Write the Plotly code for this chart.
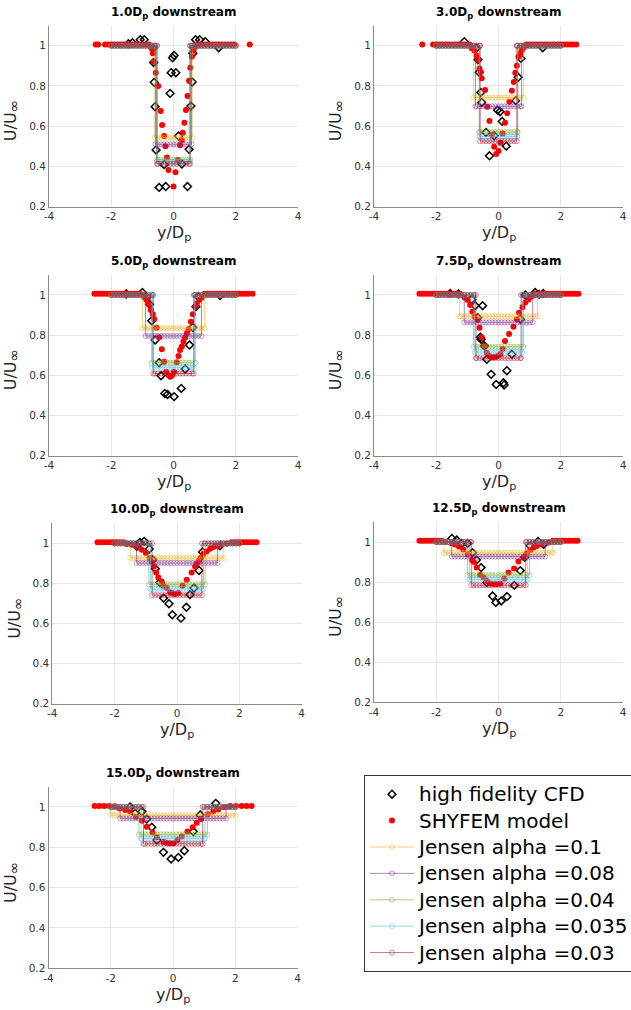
import plotly.graph_objects as go

FIG_W, FIG_H = 631, 1010

PANEL_TITLES = ["1.0", "3.0", "5.0", "7.5", "10.0", "12.5", "15.0"]
X_TICKS = [-4, -2, 0, 2, 4]
X_TICK_TEXT = ["-4", "-2", "0", "2", "4"]
Y_TICKS = [0.2, 0.4, 0.6, 0.8, 1.0]
Y_TICK_TEXT = ["0.2", "0.4", "0.6", "0.8", "1"]

# ---------------- high fidelity CFD ----------------
CFD_Y = [
    [-1.45, -1.32, -1.07, -0.94, -0.665, -0.64, -0.62, -0.59, -0.56, -0.46, -0.30, -0.25, -0.11, -0.075,
     -0.03, 0.02, 0.075, 0.16, 0.27, 0.45, 0.50, 0.56, 0.60, 0.62, 0.71, 0.84, 1.02, 1.45],
    [-1.10, -0.72, -0.66, -0.62, -0.57, -0.54, -0.40, -0.29, -0.14, -0.03, 0.05, 0.12, 0.25, 0.55, 0.63,
     0.72, 1.42],
    [-1.52, -1.0, -0.86, -0.77, -0.70, -0.59, -0.46, -0.40, -0.28, -0.19, 0.02, 0.25, 0.375, 0.515, 0.62,
     0.72, 0.80, 1.50],
    [-1.55, -1.29, -0.86, -0.75, -0.51, -0.665, -0.58, -0.56, -0.45, -0.375, -0.236, -0.075, 0.16, 0.18,
     0.27, 0.43, 0.70, 0.86, 1.18, 1.31, 1.44],
    [-1.29, -1.19, -1.05, -0.89, -0.78, -0.695, -0.545, -0.43, -0.257, -0.15, 0.128, 0.30, 0.417, 0.545,
     0.706, 0.82, 1.38],
    [-1.50, -1.34, -1.18, -0.99, -0.84, -0.71, -0.56, -0.375, -0.19, -0.086, 0.086, 0.27, 0.51, 0.70, 0.84,
     1.02, 1.27, 1.45],
    [-1.38, -1.22, -1.0, -0.845, -0.684, -0.52, -0.31, -0.064, 0.17, 0.36, 0.65, 0.87, 1.37],
]
CFD_U = [
    [1.01, 1.015, 1.03, 1.03, 0.987, 0.917, 0.818, 0.697, 0.482, 0.296, 0.409, 0.30, 0.763, 0.866,
     0.94, 0.952, 0.866, 0.551, 0.412, 0.30, 0.485, 0.70, 0.82, 0.962, 1.03, 1.03, 1.02, 0.99],
    [1.02, 0.987, 0.93, 0.868, 0.768, 0.718, 0.569, 0.453, 0.553, 0.68, 0.672, 0.624, 0.501, 0.727, 0.843,
     0.937, 0.99],
    [1.005, 1.013, 0.988, 0.954, 0.872, 0.776, 0.663, 0.598, 0.51, 0.505, 0.494, 0.535, 0.632, 0.751, 0.839,
     0.942, 0.992, 0.997],
    [1.008, 1.005, 0.978, 0.947, 0.947, 0.887, 0.79, 0.78, 0.746, 0.68, 0.605, 0.555, 0.563, 0.552,
     0.623, 0.705, 0.88, 1.0, 1.012, 1.003, 1.008],
    [0.985, 1.005, 1.01, 0.972, 0.918, 0.874, 0.805, 0.727, 0.699, 0.644, 0.627, 0.681, 0.744, 0.777,
     0.865, 0.957, 0.988],
    [1.018, 1.01, 0.993, 0.993, 0.947, 0.91, 0.872, 0.797, 0.73, 0.698, 0.705, 0.727, 0.783, 0.857, 0.923,
     0.98, 1.003, 0.988],
    [1.0, 0.969, 0.977, 0.94, 0.90, 0.836, 0.775, 0.742, 0.75, 0.783, 0.878, 0.96, 1.018],
]

# ---------------- SHYFEM model ----------------
SHY_Y = [
    [-2.5, -2.42, -2.2, -2.1, -2.0, -1.9, -1.8, -1.7, -1.6, -1.5, -1.4, -1.3, -1.2, -1.1, -1.0, -0.9, -0.8,
     -0.7, -0.665, -0.64, -0.57, -0.49, -0.41, -0.365, -0.30, -0.26, -0.21, -0.16, 0.0, 0.064, 0.14, 0.21,
     0.27, 0.30, 0.35, 0.40, 0.45, 0.50, 0.54, 0.59, 0.64, 0.70,
     0.78, 0.85, 0.95, 1.05, 1.15, 1.25, 1.35, 1.45, 1.55, 1.65, 1.75, 1.85, 1.95, 2.45],
    [-2.45, -2.1, -2.0, -1.9, -1.8, -1.7, -1.6, -1.5, -1.4, -1.3, -1.2, -1.1, -1.0, -0.93,
     -0.86, -0.77, -0.70, -0.66, -0.61, -0.57, -0.54, -0.43, -0.36, -0.29, -0.21, -0.14, -0.075, 0.0, 0.064,
     0.13, 0.21, 0.28, 0.35, 0.43, 0.49, 0.54, 0.59, 0.64, 0.71, 0.75, 0.82,
     0.9, 1.0, 1.1, 1.2, 1.3, 1.4, 1.5, 1.6, 1.7, 1.8, 1.9, 2.0, 2.1, 2.2, 2.3, 2.4, 2.5],
    [-2.54, -2.45, -2.35, -2.25, -2.15, -2.05, -1.95, -1.85, -1.75, -1.65, -1.55, -1.45, -1.35, -1.25, -1.15,
     -1.07,
     -0.94, -0.86, -0.80, -0.73, -0.665, -0.62, -0.54, -0.46, -0.375, -0.30, -0.236, -0.16, -0.107, -0.043,
     0.02, 0.107, 0.16, 0.21, 0.27, 0.32, 0.375, 0.43, 0.48, 0.56, 0.62, 0.70, 0.75, 0.83, 0.91,
     1.0, 1.1, 1.2, 1.3, 1.4, 1.5, 1.6, 1.7, 1.8, 1.9, 2.0, 2.1, 2.2, 2.3, 2.4, 2.54],
    [-2.54, -2.44, -2.34, -2.24, -2.14, -2.04, -1.94, -1.84, -1.74, -1.64, -1.54, -1.44, -1.34, -1.24,
     -1.09, -0.99, -0.91, -0.84, -0.77, -0.675, -0.61, -0.54, -0.45, -0.375, -0.29, -0.21, -0.14, -0.075,
     -0.02, 0.064, 0.13, 0.21, 0.34, 0.48, 0.59, 0.66, 0.77, 0.86, 0.965, 1.07,
     1.18, 1.28, 1.38, 1.48, 1.58, 1.68, 1.78, 1.88, 1.98, 2.08, 2.18, 2.28, 2.38, 2.48, 2.57],
    [-2.55, -2.45, -2.35, -2.25, -2.15, -2.05, -1.95, -1.85, -1.72,
     -1.61, -1.45, -1.29, -1.13, -1.0, -0.88, -0.81, -0.74, -0.67, -0.6, -0.49, -0.44, -0.33, -0.22, -0.15,
     -0.064, 0.043, 0.18, 0.31, 0.47, 0.58, 0.63, 0.71, 0.77, 0.845, 0.95, 1.06, 1.17, 1.27, 1.38, 1.59,
     1.75, 1.85, 1.95, 2.05, 2.15, 2.25, 2.35, 2.45, 2.55],
    [-2.54, -2.44, -2.34, -2.24, -2.14, -2.04, -1.94, -1.82,
     -1.72, -1.50, -1.39, -1.27, -1.13, -0.99, -0.86, -0.79, -0.70, -0.59, -0.48, -0.375, -0.27, -0.16,
     -0.054, 0.054, 0.19, 0.32, 0.50, 0.64, 0.80, 0.91, 1.02, 1.13, 1.23, 1.39, 1.61,
     1.75, 1.85, 1.95, 2.05, 2.15, 2.25, 2.35, 2.45, 2.54],
    [-2.52, -2.37, -2.21, -2.05, -1.88, -1.72, -1.54, -1.38, -1.19, -1.0, -0.845, -0.66, -0.52, -0.31, -0.2,
     -0.1, 0.01, 0.14, 0.28, 0.46, 0.63, 0.76, 0.90, 1.11, 1.29, 1.45, 1.64, 1.83, 2.02, 2.2, 2.36, 2.52],
]
SHY_U = [
    [1.006] * 17 +
    [0.987, 0.962, 0.92, 0.866, 0.80, 0.675, 0.606, 0.551, 0.50, 0.445, 0.382, 0.30, 0.371, 0.432, 0.505,
     0.531, 0.568, 0.617, 0.68, 0.75, 0.826, 0.89, 0.945, 0.975, 0.995] +
    [1.006] * 14,
    [1.006] * 14 +
    [0.987, 0.975, 0.95, 0.93, 0.887, 0.87, 0.838, 0.78, 0.697, 0.626, 0.556, 0.498, 0.462, 0.477, 0.518,
     0.564, 0.617, 0.664, 0.722, 0.776, 0.82, 0.866, 0.90, 0.945, 0.962, 0.978, 0.992] +
    [1.006] * 17,
    [1.006] * 16 +
    [0.988, 0.975, 0.955, 0.925, 0.904, 0.88, 0.837, 0.79, 0.73, 0.668, 0.618, 0.60, 0.593, 0.60, 0.618,
     0.665, 0.696, 0.726, 0.743, 0.768, 0.79, 0.81, 0.83, 0.867, 0.904, 0.942, 0.958, 0.975, 0.988] +
    [1.006] * 16,
    [1.006] * 14 +
    [0.988, 0.975, 0.95, 0.917, 0.892, 0.876, 0.837, 0.79, 0.746, 0.713, 0.696, 0.69, 0.69, 0.693, 0.698,
     0.706, 0.731, 0.771, 0.806, 0.842, 0.879, 0.912, 0.939, 0.962, 0.978, 0.992] +
    [1.006] * 15,
    [1.006] * 9 +
    [0.997, 0.993, 0.985, 0.968, 0.952, 0.927, 0.91, 0.885, 0.855, 0.83, 0.81, 0.789, 0.777, 0.756, 0.752,
     0.747, 0.752, 0.789, 0.818, 0.855, 0.885, 0.897, 0.914, 0.93, 0.947, 0.96, 0.973, 0.982, 0.988, 0.993,
     0.998] +
    [1.006] * 9,
    [1.006] * 8 +
    [1.0, 0.993, 0.988, 0.977, 0.963, 0.938, 0.91, 0.90, 0.872, 0.835, 0.823, 0.805, 0.793, 0.79, 0.79,
     0.793, 0.818, 0.847, 0.868, 0.902, 0.923, 0.943, 0.96, 0.972, 0.98, 0.988, 0.997] +
    [1.006] * 9,
    [1.005, 1.005, 1.005, 1.005, 1.003, 0.993, 0.985, 0.977, 0.952, 0.932, 0.902, 0.874, 0.85, 0.828, 0.823,
     0.82, 0.82, 0.836, 0.853, 0.878, 0.90, 0.922, 0.94, 0.964, 0.977, 0.988, 0.998, 1.005, 1.005, 1.005,
     1.005, 1.005],
]

# ---------------- Jensen top-hat profiles ----------------
JENSEN_ALPHA = ["0.1", "0.08", "0.04", "0.035", "0.03"]
JENSEN_COLORS = ["rgba(237,177,32,0.6)", "rgba(126,47,142,0.6)", "rgba(119,172,48,0.6)",
                 "rgba(77,190,238,0.6)", "rgba(162,20,47,0.6)"]
# wake velocity level inside the top hat (per panel, per alpha)
JENSEN_LEVEL = [
    [0.542, 0.510, 0.434, 0.424, 0.413],
    [0.742, 0.699, 0.571, 0.549, 0.526],
    [0.835, 0.796, 0.663, 0.638, 0.609],
    [0.894, 0.864, 0.742, 0.716, 0.686],
    [0.927, 0.902, 0.796, 0.772, 0.742],
    [0.946, 0.927, 0.835, 0.812, 0.784],
    [0.959, 0.943, 0.864, 0.843, 0.817],
]
# wake half width (y/Dp)
JENSEN_HALF = [
    [0.60, 0.58, 0.54, 0.535, 0.53],
    [0.80, 0.74, 0.62, 0.605, 0.59],
    [1.00, 0.90, 0.70, 0.675, 0.65],
    [1.25, 1.10, 0.80, 0.7625, 0.725],
    [1.50, 1.30, 0.90, 0.85, 0.80],
    [1.75, 1.50, 1.00, 0.9375, 0.875],
    [2.00, 1.70, 1.10, 1.025, 0.95],
]
JENSEN_GRID = [round(-2.0 + 0.1 * i, 2) for i in range(41)]   # sampling positions
JENSEN_FREE = 1.0

# ---------------- layout geometry (px) ----------------
X_DOM_PX = [(49, 298), (374, 623), (49, 298), (374, 623), (52.3, 301.7), (374, 623), (48.5, 297.7)]
Y_DOM_PX = [(25.6, 206.7), (25.6, 206.7), (274.9, 455.7), (274.9, 455.7), (523.3, 703.8), (522, 702),
            (786.8, 968.3)]


def px_x(p):
    return p / FIG_W


def px_y(p):
    return 1 - p / FIG_H


def jensen_profile(half, level):
    ys, us = [], []
    for g in JENSEN_GRID:
        if g < -half - 1e-9:
            ys.append(g); us.append(JENSEN_FREE)
    ys += [-half, -half]; us += [JENSEN_FREE, level]
    for g in JENSEN_GRID:
        if -half + 1e-9 < g < half - 1e-9:
            ys.append(g); us.append(level)
    ys += [half, half]; us += [level, JENSEN_FREE]
    for g in JENSEN_GRID:
        if g > half + 1e-9:
            ys.append(g); us.append(JENSEN_FREE)
    return ys, us


def legend_name(s):
    return f'<span style="font-size:20px">{s}</span>'


fig = go.Figure()
annotations = []
FONT = "DejaVu Sans"

for i in range(7):
    xa = "x" if i == 0 else f"x{i+1}"
    ya = "y" if i == 0 else f"y{i+1}"
    first = i == 0
    assert len(CFD_Y[i]) == len(CFD_U[i]), ("cfd", i)
    assert len(SHY_Y[i]) == len(SHY_U[i]), ("shy", i, len(SHY_Y[i]), len(SHY_U[i]))

    fig.add_trace(go.Scatter(
        x=CFD_Y[i], y=CFD_U[i], mode="markers", xaxis=xa, yaxis=ya,
        name=legend_name("high fidelity CFD"), legendgroup="cfd", showlegend=first,
        marker=dict(symbol="diamond-open", size=6, color="black", line=dict(width=1.5, color="black")),
    ))
    fig.add_trace(go.Scatter(
        x=SHY_Y[i], y=SHY_U[i], mode="markers", xaxis=xa, yaxis=ya,
        name=legend_name("SHYFEM model"), legendgroup="shy", showlegend=first,
        marker=dict(symbol="circle", size=6, color="#ff0000", line=dict(width=0)),
    ))
    for k in range(5):
        ys, us = jensen_profile(JENSEN_HALF[i][k], JENSEN_LEVEL[i][k])
        fig.add_trace(go.Scatter(
            x=ys, y=us, mode="lines+markers", xaxis=xa, yaxis=ya,
            name=legend_name(f"Jensen alpha ={JENSEN_ALPHA[k]}"), legendgroup=f"j{k}", showlegend=first,
            line=dict(color=JENSEN_COLORS[k], width=1),
            marker=dict(symbol="circle-open", size=5, color=JENSEN_COLORS[k], line=dict(width=0.8)),
        ))

    x0, x1 = X_DOM_PX[i]
    y0, y1 = Y_DOM_PX[i]
    axis_common = dict(showgrid=True, gridcolor="#e6e6e6", gridwidth=1, zeroline=False,
                       showline=True, linecolor="#8a8a8a", linewidth=1, ticks="",
                       tickfont=dict(family=FONT, size=10.5, color="#333333"))
    fig.update_layout(**{
        ("xaxis" if i == 0 else f"xaxis{i+1}"): dict(
            domain=[px_x(x0), px_x(x1)], range=[-4, 4], tickvals=X_TICKS, ticktext=X_TICK_TEXT,
            anchor=ya, **axis_common),
        ("yaxis" if i == 0 else f"yaxis{i+1}"): dict(
            domain=[px_y(y1), px_y(y0)], range=[0.2, 1.1], tickvals=Y_TICKS, ticktext=Y_TICK_TEXT,
            anchor=xa, **axis_common),
    })
    cx = (x0 + x1) / 2
    annotations.append(dict(
        text=f"<b>{PANEL_TITLES[i]}D<sub>p</sub> downstream</b>", x=px_x(cx), y=px_y(y0 - 13),
        xref="paper", yref="paper", xanchor="center", yanchor="middle", showarrow=False,
        font=dict(family=FONT, size=12, color="black")))
    annotations.append(dict(
        text="y/D<sub>p</sub>", x=px_x(cx), y=px_y(y1 + 27),
        xref="paper", yref="paper", xanchor="center", yanchor="middle", showarrow=False,
        font=dict(family=FONT, size=16, color="#262626")))
    annotations.append(dict(
        text='U/U<sub><span style="font-size:15px">∞</span></sub>', x=px_x(x0 - 37),
        y=px_y((y0 + y1) / 2 + 5), textangle=-90,
        xref="paper", yref="paper", xanchor="center", yanchor="middle", showarrow=False,
        font=dict(family=FONT, size=16, color="#262626")))

fig.update_layout(
    width=FIG_W, height=FIG_H,
    margin=dict(l=0, r=0, t=0, b=0, autoexpand=False),
    paper_bgcolor="white", plot_bgcolor="white",
    annotations=annotations,
    legend=dict(x=px_x(364), y=px_y(775), xanchor="left", yanchor="top",
                font=dict(family=FONT, size=18, color="black"),
                bordercolor="#333333", borderwidth=1, bgcolor="white",
                itemwidth=44, tracegroupgap=0),
)

fig.write_html("out.html")
